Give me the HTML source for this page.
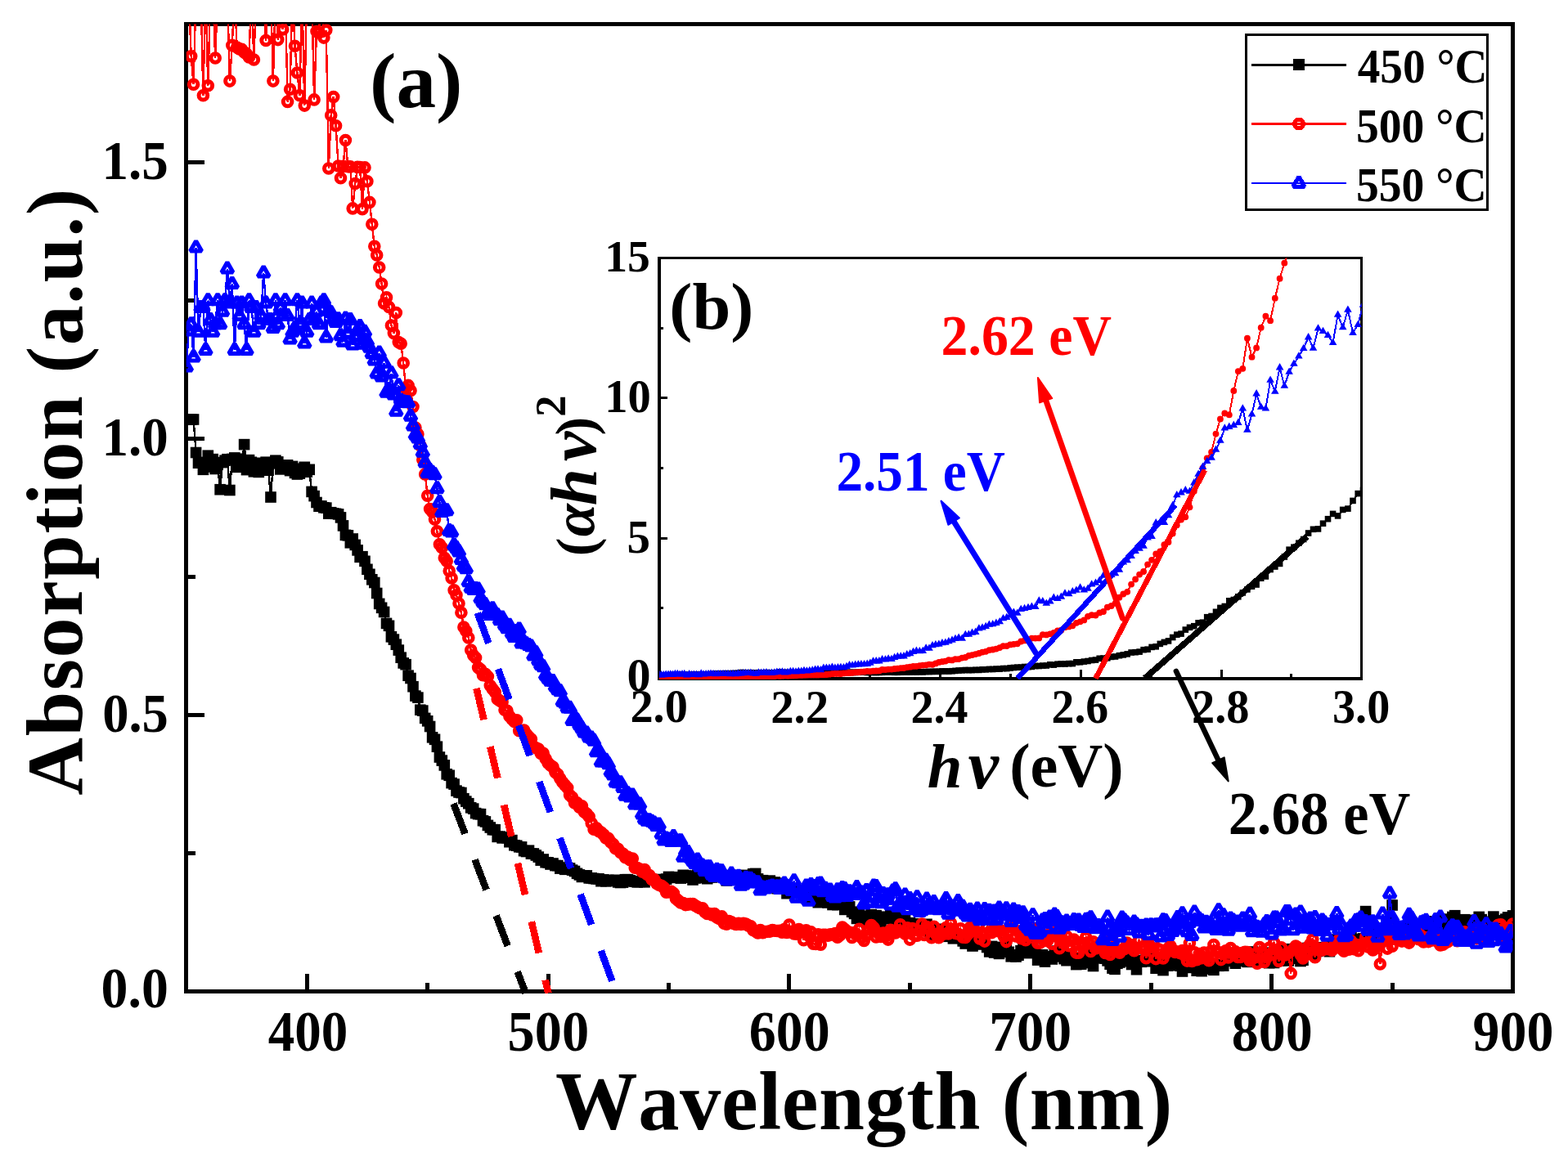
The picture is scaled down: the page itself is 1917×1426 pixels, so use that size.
<!DOCTYPE html>
<html lang="en"><head><meta charset="utf-8"><title>Absorption spectra</title>
<style>html,body{margin:0;padding:0;background:#fff}body{width:1917px;height:1426px;overflow:hidden}svg{display:block}text{font-family:"Liberation Serif","DejaVu Serif",serif;font-weight:bold;font-kerning:none}.i{font-style:italic}</style></head><body>
<svg width="1917" height="1426" viewBox="0 0 1917 1426" role="img" aria-label="UV-vis absorption spectra with Tauc plot inset">
<rect width="1917" height="1426" fill="#fff"/>
<defs>
<clipPath id="cm"><rect x="227.8" y="29.5" width="1621.7" height="1183.1"/></clipPath>
<clipPath id="ci"><rect x="806.1" y="315.6" width="858.7" height="515.4"/></clipPath>
<marker id="sq" markerUnits="userSpaceOnUse" markerWidth="16" markerHeight="16" refX="8" refY="8" viewBox="0 0 16 16"><rect x="1.2" y="1.2" width="13.6" height="13.6" fill="#000"/></marker>
<marker id="ci0" markerUnits="userSpaceOnUse" markerWidth="20" markerHeight="20" refX="10" refY="10" viewBox="0 0 20 20"><circle cx="10" cy="10" r="5.3" fill="none" stroke="#f00" stroke-width="5"/></marker>
<marker id="tr" markerUnits="userSpaceOnUse" markerWidth="24" markerHeight="24" refX="0" refY="0" viewBox="-12 -12 24 24"><path d="M0-8.1L7 4H-7Z" fill="none" stroke="#00f" stroke-width="5.2" stroke-linejoin="bevel"/></marker>
<marker id="sq2" markerUnits="userSpaceOnUse" markerWidth="10" markerHeight="10" refX="0" refY="0" viewBox="-5 -5 10 10"><rect x="-3.8" y="-3.8" width="7.6" height="7.6" fill="#000"/></marker>
<marker id="ci2" markerUnits="userSpaceOnUse" markerWidth="10" markerHeight="10" refX="0" refY="0" viewBox="-5 -5 10 10"><circle r="3.9" fill="#f00"/></marker>
<marker id="tr2" markerUnits="userSpaceOnUse" markerWidth="12" markerHeight="12" refX="0" refY="0" viewBox="-6 -6 12 12"><path d="M0-5.5L4.8 2.8H-4.8Z" fill="#00f"/></marker>
</defs>
<g stroke="#000" stroke-width="5" fill="none" shape-rendering="crispEdges">
<rect x="227.8" y="29.5" width="1621.7" height="1183.1"/>
<path d="M375.2 1212.6v-22M670.1 1212.6v-22M964.9 1212.6v-22M1259.8 1212.6v-22M1554.6 1212.6v-22M522.7 1212.6v-11M817.5 1212.6v-11M1112.4 1212.6v-11M1407.2 1212.6v-11M1702.1 1212.6v-11M227.8 874.6h22M227.8 536.6h22M227.8 198.6h22M227.8 1043.6h11M227.8 705.6h11M227.8 367.6h11"/>
</g>
<g clip-path="url(#cm)" fill="none" shape-rendering="crispEdges">
<polyline points="227.8,513 230.7,513 233.7,513 236.6,513 239.6,553.5 242.5,566.2 245.5,565.4 248.4,574.3 251.4,569.1 254.3,557.2 257.3,571 260.2,561.6 263.2,573.5 266.1,568.3 269.1,598.7 272,565.6 275,563.2 277.9,561.7 280.9,599.5 283.8,561.5 286.8,559.9 289.7,571.3 292.7,561.2 295.6,567.5 298.6,543.6 301.5,574.6 304.5,562.6 307.4,565.3 310.4,576.8 313.3,566.3 316.3,577.4 319.2,570.4 322.2,566.8 325.1,565.2 328.1,575.2 331,608 333.9,566.8 336.9,563.2 339.8,564.9 342.8,573.9 345.7,571.1 348.7,570 351.6,568.8 354.6,575.6 357.5,570.4 360.5,578.4 363.4,580 366.4,579.1 369.3,573.2 372.3,571.3 375.2,577.2 378.2,574.3 381.1,601.4 384.1,606.6 387,614.5 390,619.2 392.9,618.9 395.9,620.8 398.8,621.1 401.8,628.1 404.7,626.7 407.7,627.9 410.6,628.3 413.6,628.9 416.5,632.9 419.5,642.9 422.4,654.4 425.4,654.8 428.3,663.8 431.2,659 434.2,666.4 437.1,672.9 440.1,681.3 443,680.7 446,686.3 448.9,696.3 451.9,702.3 454.8,708.8 457.8,712.5 460.7,725.5 463.7,738.4 466.6,743.3 469.6,748.4 472.5,762.4 475.5,765.3 478.4,778.8 481.4,782.1 484.3,788.2 487.3,795.1 490.2,804.2 493.2,810.9 496.1,812.7 499.1,826.2 502,829.5 505,839.7 507.9,851.1 510.9,853.1 513.8,868.2 516.8,869.1 519.7,878.4 522.7,881.8 525.6,888.5 528.6,901.8 531.5,904.3 534.4,913.2 537.4,926 540.3,930.1 543.3,935.9 546.2,946.8 549.2,948.3 552.1,957.6 555.1,959.1 558,967.1 561,969 563.9,969.5 566.9,976.7 569.8,980.1 572.8,982.7 575.7,987.8 578.7,989.1 581.6,994.6 584.6,995.6 587.5,995.7 590.5,1003.7 593.4,1004.9 596.4,1009.4 599.3,1012 602.3,1014.7 605.2,1014.7 608.2,1023.4 611.1,1023.1 614.1,1024.9 617,1024 620,1024.7 622.9,1029.7 625.9,1027.6 628.8,1033.7 631.8,1034.2 634.7,1035.8 637.6,1035.9 640.6,1040.6 643.5,1041.5 646.5,1040.2 649.4,1044.1 652.4,1044 655.3,1046 658.3,1048.1 661.2,1052.1 664.2,1051 667.1,1054.7 670.1,1054.8 673,1057 676,1056 678.9,1058.6 681.9,1058.6 684.8,1062.1 687.8,1061 690.7,1063.3 693.7,1063.2 696.6,1061.9 699.6,1064.1 702.5,1065.5 705.5,1068.3 708.4,1069.9 711.4,1072.4 714.3,1070.9 717.3,1070.9 720.2,1073.9 723.2,1073.8 726.1,1074.5 729.1,1074.9 732,1074.8 734.9,1077.7 737.9,1075.9 740.8,1077.8 743.8,1076.4 746.7,1077.4 749.7,1077 752.6,1076.3 755.6,1078.9 758.5,1079.5 761.5,1079.1 764.4,1075.7 767.4,1075.7 770.3,1076.7 773.3,1077.8 776.2,1078.2 779.2,1078.9 782.1,1078.4 785.1,1077.4 788,1078.8 791,1074.9 793.9,1075.5 796.9,1076.2 799.8,1076.2 802.8,1076.1 805.7,1075.5 808.7,1076.4 811.6,1076.2 814.6,1075.1 817.5,1072.4 820.5,1073.3 823.4,1073.3 826.4,1072.7 829.3,1072.9 832.3,1074.1 835.2,1070.3 838.1,1071.1 841.1,1071.1 844,1073.2 847,1076 849.9,1074 852.9,1070 855.8,1072.3 858.8,1070 861.7,1073.5 864.7,1074.7 867.6,1072.6 870.6,1073 873.5,1070.1 876.5,1071 879.4,1065.8 882.4,1071.3 885.3,1073.1 888.3,1076.9 891.2,1074 894.2,1070.6 897.1,1075.2 900.1,1074 903,1070.7 906,1073.1 908.9,1075.4 911.9,1070.4 914.8,1072.4 917.8,1071.9 920.7,1068.8 923.7,1068.4 926.6,1074.9 929.6,1078.2 932.5,1076.7 935.5,1078.6 938.4,1085.5 941.3,1077.1 944.3,1080.2 947.2,1079 950.2,1086.7 953.1,1080.2 956.1,1086.2 959,1086.8 962,1092.7 964.9,1090.3 967.9,1090.5 970.8,1091 973.8,1089.4 976.7,1091 979.7,1088.6 982.6,1094.1 985.6,1098.4 988.5,1096.6 991.5,1094.1 994.4,1091.7 997.4,1093.2 1000.3,1103.7 1003.3,1099.8 1006.2,1095.1 1009.2,1099.7 1012.1,1104 1015.1,1102.9 1018,1106.5 1021,1104 1023.9,1106.6 1026.9,1102.8 1029.8,1105.9 1032.8,1112.4 1035.7,1110.1 1038.7,1108.9 1041.6,1115.2 1044.5,1117.4 1047.5,1123.4 1050.4,1116.3 1053.4,1120.3 1056.3,1125.7 1059.3,1127.7 1062.2,1123.3 1065.2,1118.6 1068.1,1120.8 1071.1,1119.6 1074,1125.8 1077,1128.9 1079.9,1121.6 1082.9,1121.3 1085.8,1123.6 1088.8,1119.5 1091.7,1127.3 1094.7,1128 1097.6,1122.9 1100.6,1119.6 1103.5,1125.2 1106.5,1121.4 1109.4,1129.3 1112.4,1128.7 1115.3,1131 1118.3,1137.8 1121.2,1133.2 1124.2,1129.8 1127.1,1133.5 1130.1,1134.9 1133,1130.3 1136,1139.7 1138.9,1144 1141.8,1142.6 1144.8,1144.9 1147.7,1136.3 1150.7,1138.3 1153.6,1144 1156.6,1145.3 1159.5,1137.7 1162.5,1144.6 1165.4,1147.8 1168.4,1145.2 1171.3,1143.7 1174.3,1145.5 1177.2,1150.9 1180.2,1154 1183.1,1148.6 1186.1,1150.1 1189,1157 1192,1148.9 1194.9,1148.5 1197.9,1152.8 1200.8,1155 1203.8,1153.6 1206.7,1158.5 1209.7,1163.9 1212.6,1157.4 1215.6,1165 1218.5,1158.4 1221.5,1166.4 1224.4,1162.4 1227.4,1161.7 1230.3,1152.9 1233.3,1164.3 1236.2,1169.8 1239.2,1167.8 1242.1,1170 1245,1168.2 1248,1162.8 1250.9,1159.6 1253.9,1154.7 1256.8,1165.6 1259.8,1157.2 1262.7,1154.9 1265.7,1163.9 1268.6,1174.1 1271.6,1169.6 1274.5,1167.8 1277.5,1176.1 1280.4,1170.1 1283.4,1169.9 1286.3,1173 1289.3,1166.8 1292.2,1163.1 1295.2,1169.9 1298.1,1168.4 1301.1,1172.6 1304,1174.7 1307,1171.1 1309.9,1167.8 1312.9,1172.6 1315.8,1179.6 1318.8,1170.5 1321.7,1179.2 1324.7,1173.1 1327.6,1163.8 1330.6,1169.6 1333.5,1177.5 1336.5,1181.5 1339.4,1169.2 1342.4,1171.9 1345.3,1170 1348.2,1167.6 1351.2,1172.1 1354.1,1174.9 1357.1,1179.2 1360,1184.1 1363,1185.3 1365.9,1178.3 1368.9,1177 1371.8,1173.7 1374.8,1175.7 1377.7,1174.9 1380.7,1171.7 1383.6,1179.5 1386.6,1178.9 1389.5,1185.7 1392.5,1174.6 1395.4,1176.3 1398.4,1174.6 1401.3,1168.9 1404.3,1169.6 1407.2,1175.8 1410.2,1173.4 1413.1,1184.2 1416.1,1177.9 1419,1177.6 1422,1186.6 1424.9,1174.2 1427.9,1181.1 1430.8,1176.1 1433.8,1180.4 1436.7,1174.4 1439.7,1171.1 1442.6,1181.2 1445.5,1188 1448.5,1182.9 1451.4,1176.4 1454.4,1180.8 1457.3,1183.4 1460.3,1178.2 1463.2,1187.2 1466.2,1184.9 1469.1,1187.7 1472.1,1179.7 1475,1182.5 1478,1185 1480.9,1181.7 1483.9,1186.3 1486.8,1179.9 1489.8,1181.3 1492.7,1179.9 1495.7,1181.1 1498.6,1172.8 1501.6,1175.4 1504.5,1172.8 1507.5,1172 1510.4,1178.2 1513.4,1172.8 1516.3,1172.2 1519.3,1172 1522.2,1175.4 1525.2,1176.4 1528.1,1170.2 1531.1,1164 1534,1174.5 1537,1170.4 1539.9,1173.7 1542.9,1168.5 1545.8,1168.6 1548.7,1165.2 1551.7,1177.7 1554.6,1176.1 1557.6,1177.5 1560.5,1173.2 1563.5,1174.9 1566.4,1174.7 1569.4,1167.7 1572.3,1160.7 1575.3,1174.9 1578.2,1172.3 1581.2,1168.2 1584.1,1168.3 1587.1,1170 1590,1175.5 1593,1174.2 1595.9,1164.7 1598.9,1159.4 1601.8,1162.2 1604.8,1167.3 1607.7,1163.4 1610.7,1163.4 1613.6,1158.7 1616.6,1158.9 1619.5,1162.2 1622.5,1158.4 1625.4,1163.7 1628.4,1154.4 1631.3,1149.1 1634.3,1159.1 1637.2,1153.3 1640.2,1158.2 1643.1,1148.5 1646.1,1145.8 1649,1150.2 1651.9,1144.7 1654.9,1149.7 1657.8,1151.8 1660.8,1151.4 1663.7,1148.5 1666.7,1147.9 1669.6,1114.6 1672.6,1147.5 1675.5,1140.8 1678.5,1137.1 1681.4,1143.4 1684.4,1149.8 1687.3,1140.2 1690.3,1134.8 1693.2,1139.5 1696.2,1146.3 1699.1,1140 1702.1,1107 1705,1144.3 1708,1137.2 1710.9,1138.7 1713.9,1141.6 1716.8,1135.1 1719.8,1142.1 1722.7,1135.5 1725.7,1128 1728.6,1131.2 1731.6,1137.2 1734.5,1142.4 1737.5,1141.9 1740.4,1143 1743.4,1126.8 1746.3,1131.3 1749.2,1136.6 1752.2,1139.3 1755.1,1138.7 1758.1,1134.6 1761,1138.1 1764,1124.1 1766.9,1131.8 1769.9,1134.2 1772.8,1129.1 1775.8,1121.5 1778.7,1119.7 1781.7,1128.3 1784.6,1126.9 1787.6,1126.9 1790.5,1124.7 1793.5,1125.3 1796.4,1131.5 1799.4,1134.8 1802.3,1128.3 1805.3,1133.2 1808.2,1121.4 1811.2,1124.6 1814.1,1130.9 1817.1,1129.1 1820,1129.3 1823,1127.3 1825.9,1121.1 1828.9,1131.4 1831.8,1135.2 1834.8,1126.2 1837.7,1126 1840.7,1124.1 1843.6,1121.9 1846.6,1124.4 1849.5,1119.9" stroke="#000" stroke-width="2.4" marker-start="url(#sq)" marker-mid="url(#sq)" marker-end="url(#sq)"/>
<polyline points="227.8,-10.5 230.7,-10.5 233.7,68.8 236.6,103.3 239.6,-10.5 242.5,-10.5 245.5,-10.5 248.4,116.8 251.4,-10.5 254.3,104.7 257.3,-10.5 260.2,-10.5 263.2,71 266.1,-10.5 269.1,-10.5 272,-10.5 275,-10.5 277.9,-10.5 280.9,99.1 283.8,55.4 286.8,-10.5 289.7,58 292.7,60 295.6,60.4 298.6,64 301.5,66 304.5,70 307.4,-10.5 310.4,73 313.3,-10.5 316.3,-10.5 319.2,-10.5 322.2,-10.5 325.1,49.5 328.1,-10.5 331,-10.5 333.9,99.1 336.9,-10.5 339.8,48.6 342.8,-10.5 345.7,36 348.7,-10.5 351.6,124.4 354.6,109.2 357.5,-10.5 360.5,56.2 363.4,89 366.4,116.8 369.3,-10.5 372.3,129.1 375.2,-10.5 378.2,-10.5 381.1,-10.5 384.1,121.9 387,38.5 390,40 392.9,-10.5 395.9,46.1 398.8,36.8 401.8,206 404.7,140.9 407.7,118.5 410.6,153.8 413.6,203 416.5,217.8 419.5,203.4 422.4,171.5 425.4,203.7 428.3,203.9 431.2,254.9 434.2,224.5 437.1,204.4 440.1,204.6 443,255.7 446,204.9 448.9,221.8 451.9,247.4 454.8,274.3 457.8,301.2 460.7,312 463.7,327 466.6,347 469.6,371 472.5,363.8 475.5,375.4 478.4,398 481.4,407.6 484.3,382.5 487.3,418.6 490.2,420.3 493.2,444 496.1,475.2 499.1,471.4 502,477.7 505,497.5 507.9,523.1 510.9,530.9 513.8,544.7 516.8,562.3 519.7,579.9 522.7,606.2 525.6,622.5 528.6,626.1 531.5,635.1 534.4,649.7 537.4,665.8 540.3,669.7 543.3,682.2 546.2,686.3 549.2,698.2 552.1,706.9 555.1,721.8 558,727.7 561,738.1 563.9,749.2 566.9,767.1 569.8,771.8 572.8,779.9 575.7,795 578.7,801.4 581.6,804.5 584.6,816.4 587.5,818.8 590.5,825.8 593.4,824.3 596.4,827.4 599.3,838.6 602.3,842.8 605.2,846.4 608.2,855 611.1,857.1 614.1,858.7 617,868.2 620,869.2 622.9,875.9 625.9,879.6 628.8,882.6 631.8,880.7 634.7,893.7 637.6,893.7 640.6,893.1 643.5,897.8 646.5,901.3 649.4,904.1 652.4,913.4 655.3,914.7 658.3,916 661.2,921.5 664.2,921.2 667.1,927.9 670.1,933.3 673,936.1 676,938.1 678.9,944.4 681.9,947 684.8,952.2 687.8,956.7 690.7,960.3 693.7,963.5 696.6,972.5 699.6,975.2 702.5,981.9 705.5,981.9 708.4,987.3 711.4,985.8 714.3,993 717.3,995.3 720.2,998.7 723.2,1006.7 726.1,1014.2 729.1,1012.8 732,1016.4 734.9,1018 737.9,1020.7 740.8,1024.9 743.8,1025.4 746.7,1030 749.7,1032.6 752.6,1037.8 755.6,1038.2 758.5,1042.5 761.5,1044.1 764.4,1048.6 767.4,1048.1 770.3,1051.8 773.3,1050 776.2,1061.3 779.2,1061.6 782.1,1063 785.1,1066.1 788,1063.6 791,1069.2 793.9,1070.5 796.9,1075.4 799.8,1075.5 802.8,1080.5 805.7,1082.2 808.7,1083.2 811.6,1085.5 814.6,1091.3 817.5,1090.6 820.5,1090.3 823.4,1092.6 826.4,1099 829.3,1101.4 832.3,1104 835.2,1104.5 838.1,1106.6 841.1,1106.1 844,1105.6 847,1105.6 849.9,1107.6 852.9,1109.3 855.8,1110.8 858.8,1110.7 861.7,1115.3 864.7,1117.5 867.6,1117.5 870.6,1118.9 873.5,1117.5 876.5,1121.9 879.4,1123.4 882.4,1120.9 885.3,1129.3 888.3,1130.2 891.2,1126.6 894.2,1127.7 897.1,1129.6 900.1,1130.5 903,1129.4 906,1130.5 908.9,1129.3 911.9,1130 914.8,1131.9 917.8,1132.8 920.7,1137.5 923.7,1139.1 926.6,1140.9 929.6,1137.6 932.5,1140.8 935.5,1139.6 938.4,1139.3 941.3,1139.1 944.3,1137.6 947.2,1138.3 950.2,1138.5 953.1,1138.4 956.1,1140.3 959,1136.5 962,1140.4 964.9,1131 967.9,1139.2 970.8,1142 973.8,1142.1 976.7,1136.5 979.7,1138.6 982.6,1149.7 985.6,1137.8 988.5,1144.3 991.5,1139.9 994.4,1154.3 997.4,1154.5 1000.3,1142.7 1003.3,1155.2 1006.2,1143.4 1009.2,1143.4 1012.1,1144.2 1015.1,1142.7 1018,1143 1021,1141.6 1023.9,1146.2 1026.9,1143.7 1029.8,1134.1 1032.8,1136.5 1035.7,1139.2 1038.7,1140.2 1041.6,1146.4 1044.5,1140.7 1047.5,1143.2 1050.4,1136.2 1053.4,1146.7 1056.3,1150.4 1059.3,1144.3 1062.2,1136.9 1065.2,1131.5 1068.1,1134.6 1071.1,1145.9 1074,1141.3 1077,1145.4 1079.9,1141 1082.9,1145.1 1085.8,1149.1 1088.8,1137.3 1091.7,1138.8 1094.7,1140.9 1097.6,1137.9 1100.6,1130.7 1103.5,1139.2 1106.5,1142.1 1109.4,1134.9 1112.4,1149.1 1115.3,1135.5 1118.3,1144.2 1121.2,1144.3 1124.2,1138.8 1127.1,1130.1 1130.1,1143.4 1133,1133.6 1136,1136.7 1138.9,1146.7 1141.8,1133.3 1144.8,1143.2 1147.7,1146.8 1150.7,1142.7 1153.6,1142.2 1156.6,1134.5 1159.5,1142 1162.5,1129 1165.4,1136.2 1168.4,1141.5 1171.3,1142 1174.3,1135.8 1177.2,1146.3 1180.2,1146.5 1183.1,1142.7 1186.1,1134.2 1189,1137 1192,1138.2 1194.9,1139.8 1197.9,1148 1200.8,1141.4 1203.8,1151.1 1206.7,1133.3 1209.7,1139.8 1212.6,1140.6 1215.6,1137.2 1218.5,1138 1221.5,1138.9 1224.4,1138.3 1227.4,1145.6 1230.3,1151.6 1233.3,1139.6 1236.2,1131.8 1239.2,1135.5 1242.1,1145 1245,1139.3 1248,1147.6 1250.9,1141.9 1253.9,1149.7 1256.8,1144.6 1259.8,1134.2 1262.7,1140.8 1265.7,1135.9 1268.6,1153.2 1271.6,1153 1274.5,1148.6 1277.5,1144.7 1280.4,1150.8 1283.4,1142.1 1286.3,1154.2 1289.3,1140.5 1292.2,1143.8 1295.2,1159.8 1298.1,1147.6 1301.1,1154 1304,1145 1307,1156.7 1309.9,1150.6 1312.9,1149 1315.8,1165.1 1318.8,1165.2 1321.7,1152.5 1324.7,1154.6 1327.6,1146.2 1330.6,1152.2 1333.5,1163.5 1336.5,1151.8 1339.4,1160 1342.4,1156.2 1345.3,1158.5 1348.2,1152.2 1351.2,1165.5 1354.1,1163.5 1357.1,1167.4 1360,1143.9 1363,1163.5 1365.9,1162.8 1368.9,1165.2 1371.8,1161.7 1374.8,1160.5 1377.7,1153 1380.7,1156.5 1383.6,1155.7 1386.6,1162.8 1389.5,1159.2 1392.5,1149.9 1395.4,1159.4 1398.4,1157.3 1401.3,1171.7 1404.3,1156.2 1407.2,1158.4 1410.2,1150.9 1413.1,1172.6 1416.1,1160.7 1419,1162 1422,1172 1424.9,1166.2 1427.9,1160.2 1430.8,1156.7 1433.8,1161.8 1436.7,1164.5 1439.7,1164.1 1442.6,1165.6 1445.5,1162.6 1448.5,1168.5 1451.4,1175.1 1454.4,1153.4 1457.3,1175.5 1460.3,1164.8 1463.2,1173.8 1466.2,1166.5 1469.1,1171.7 1472.1,1165.1 1475,1171.2 1478,1174.8 1480.9,1163 1483.9,1155.5 1486.8,1163 1489.8,1164.9 1492.7,1173.6 1495.7,1166.5 1498.6,1162.7 1501.6,1171 1504.5,1159.6 1507.5,1166.7 1510.4,1163.9 1513.4,1170.4 1516.3,1170.4 1519.3,1165.3 1522.2,1164.2 1525.2,1164.6 1528.1,1174.8 1531.1,1172.6 1534,1167.1 1537,1178.2 1539.9,1158.6 1542.9,1163.8 1545.8,1176.5 1548.7,1171 1551.7,1159.3 1554.6,1167.2 1557.6,1152.7 1560.5,1161.8 1563.5,1175.5 1566.4,1158.8 1569.4,1167.9 1572.3,1167.6 1575.3,1165.3 1578.2,1190.4 1581.2,1161.1 1584.1,1157.1 1587.1,1159.1 1590,1167.6 1593,1172 1595.9,1167.7 1598.9,1158.8 1601.8,1154.8 1604.8,1148.7 1607.7,1170.7 1610.7,1159.9 1613.6,1161.3 1616.6,1162 1619.5,1158.8 1622.5,1160.7 1625.4,1160.5 1628.4,1162.3 1631.3,1156.4 1634.3,1152.6 1637.2,1149.2 1640.2,1160.6 1643.1,1163.2 1646.1,1158.6 1649,1161.3 1651.9,1150.9 1654.9,1160.6 1657.8,1155.4 1660.8,1162.8 1663.7,1157.1 1666.7,1153.8 1669.6,1146.3 1672.6,1158 1675.5,1151.9 1678.5,1161.9 1681.4,1159.8 1684.4,1157.3 1687.3,1179 1690.3,1150 1693.2,1148.6 1696.2,1160.1 1699.1,1148.6 1702.1,1157.3 1705,1142 1708,1149 1710.9,1149.6 1713.9,1151.1 1716.8,1150.1 1719.8,1149.7 1722.7,1153.1 1725.7,1145.1 1728.6,1147.4 1731.6,1144.6 1734.5,1148.7 1737.5,1144.4 1740.4,1151.9 1743.4,1138.8 1746.3,1151.6 1749.2,1150.2 1752.2,1142.5 1755.1,1141 1758.1,1152 1761,1155.9 1764,1155.2 1766.9,1152.9 1769.9,1151.8 1772.8,1148.4 1775.8,1141.9 1778.7,1141.6 1781.7,1150.7 1784.6,1144.5 1787.6,1142.6 1790.5,1139.7 1793.5,1147.6 1796.4,1150.3 1799.4,1141.7 1802.3,1137.1 1805.3,1147.6 1808.2,1135.3 1811.2,1134.8 1814.1,1144.7 1817.1,1151.1 1820,1145.5 1823,1143.7 1825.9,1138.5 1828.9,1149.1 1831.8,1131.3 1834.8,1130.8 1837.7,1143.3 1840.7,1147.1 1843.6,1139.3 1846.6,1135.6 1849.5,1130.1" stroke="#f00" stroke-width="2.4" marker-start="url(#ci0)" marker-mid="url(#ci0)" marker-end="url(#ci0)"/>
<polyline points="227.8,449 230.7,405 233.7,396.7 236.6,437 239.6,303 242.5,406.1 245.5,376.4 248.4,376.4 251.4,428.4 254.3,367.6 257.3,391.3 260.2,406.1 263.2,396.7 266.1,367.6 269.1,396.7 272,381.1 275,367.6 277.9,329 280.9,371 283.8,347.5 286.8,428.4 289.7,371 292.7,386.5 295.6,371 298.6,396.7 301.5,428.4 304.5,367.6 307.4,376.4 310.4,406.1 313.3,376.4 316.3,396.7 319.2,386.5 322.2,334 325.1,371 328.1,391.3 331,391.3 333.9,401.4 336.9,367.6 339.8,396.7 342.8,376.4 345.7,386.5 348.7,367.6 351.6,386.5 354.6,415 357.5,406.1 360.5,401.4 363.4,367.6 366.4,396.7 369.3,371 372.3,420 375.2,406.1 378.2,391.3 381.1,371 384.1,391.3 387,381.1 390,396.7 392.9,371 395.9,367.6 398.8,412.8 401.8,380.1 404.7,382.7 407.7,389.9 410.6,394.3 413.6,390.6 416.5,410.7 419.5,418.2 422.4,390 425.4,408 428.3,391.5 431.2,422 434.2,411.4 437.1,404.7 440.1,399.5 443,421.1 446,406.1 448.9,417.5 451.9,425.2 454.8,432.6 457.8,440.9 460.7,456.8 463.7,431.9 466.6,460.8 469.6,444.1 472.5,480.2 475.5,476.5 478.4,456.7 481.4,482.9 484.3,503.2 487.3,471.6 490.2,489.8 493.2,491.6 496.1,492.3 499.1,492.7 502,509.1 505,520.9 507.9,531.9 510.9,536 513.8,543.2 516.8,553.2 519.7,566 522.7,578.7 525.6,575.5 528.6,578.2 531.5,580.7 534.4,597.7 537.4,614.4 540.3,626.3 543.3,624.8 546.2,624.6 549.2,649.4 552.1,650.8 555.1,666.8 558,670.5 561,674.8 563.9,684.4 566.9,692.6 569.8,695.6 572.8,711.7 575.7,719.2 578.7,721.4 581.6,720.5 584.6,720.9 587.5,732 590.5,736.7 593.4,739.7 596.4,749.3 599.3,752.3 602.3,744.7 605.2,750.7 608.2,752.7 611.1,758.6 614.1,755.8 617,764.4 620,768.6 622.9,765.2 625.9,774.6 628.8,779.4 631.8,772.5 634.7,770 637.6,786.8 640.6,785.5 643.5,787.7 646.5,789.3 649.4,790.8 652.4,801.9 655.3,798.7 658.3,807.8 661.2,813.2 664.2,815.7 667.1,825.9 670.1,829.8 673,833.2 676,833.5 678.9,839.7 681.9,843.6 684.8,845.7 687.8,858.2 690.7,860.2 693.7,865.9 696.6,866.1 699.6,881.4 702.5,877.2 705.5,881.1 708.4,886.4 711.4,890.8 714.3,895.9 717.3,896.8 720.2,901.9 723.2,902.8 726.1,906.2 729.1,919.7 732,918.1 734.9,931.8 737.9,931.8 740.8,930.1 743.8,934.7 746.7,943.8 749.7,947.9 752.6,957 755.6,957.6 758.5,957.6 761.5,963.5 764.4,973.2 767.4,970.6 770.3,975 773.3,972.9 776.2,984 779.2,983.2 782.1,983.8 785.1,995.9 788,1002 791,1004.2 793.9,1003.6 796.9,1005.1 799.8,1006.9 802.8,1010.4 805.7,1008.8 808.7,1020.2 811.6,1027.9 814.6,1025.8 817.5,1027 820.5,1029.5 823.4,1023.3 826.4,1029.2 829.3,1029 832.3,1028.7 835.2,1048.2 838.1,1041 841.1,1042.3 844,1049.1 847,1053.2 849.9,1056.7 852.9,1051.8 855.8,1060.1 858.8,1059 861.7,1065.5 864.7,1060.6 867.6,1060.6 870.6,1070 873.5,1072.5 876.5,1064.1 879.4,1065.6 882.4,1065.7 885.3,1073.7 888.3,1076.2 891.2,1076.9 894.2,1069 897.1,1072.3 900.1,1074.3 903,1072.1 906,1083.1 908.9,1081.8 911.9,1074.2 914.8,1075.2 917.8,1075.2 920.7,1077.5 923.7,1079.8 926.6,1079.6 929.6,1088.8 932.5,1086 935.5,1086.9 938.4,1085.6 941.3,1084.9 944.3,1084 947.2,1085.3 950.2,1084.6 953.1,1087.3 956.1,1083.7 959,1080.9 962,1084.2 964.9,1085.2 967.9,1089.3 970.8,1077.6 973.8,1098.1 976.7,1093.1 979.7,1091.8 982.6,1094.6 985.6,1083.9 988.5,1102.1 991.5,1082.4 994.4,1084.4 997.4,1088.9 1000.3,1081.5 1003.3,1080.9 1006.2,1090.7 1009.2,1087.1 1012.1,1089.8 1015.1,1089 1018,1096.4 1021,1098 1023.9,1088.6 1026.9,1096.7 1029.8,1086.5 1032.8,1087.5 1035.7,1096.4 1038.7,1090.7 1041.6,1092.8 1044.5,1094.4 1047.5,1085.5 1050.4,1093.3 1053.4,1092 1056.3,1105.8 1059.3,1089.5 1062.2,1104.1 1065.2,1096.8 1068.1,1083.8 1071.1,1084.3 1074,1098.1 1077,1104.7 1079.9,1093.4 1082.9,1099.5 1085.8,1094.7 1088.8,1107 1091.7,1090 1094.7,1087.7 1097.6,1109.1 1100.6,1104.7 1103.5,1104.6 1106.5,1094.9 1109.4,1112.6 1112.4,1099.5 1115.3,1103 1118.3,1107.6 1121.2,1097.6 1124.2,1115.3 1127.1,1113.6 1130.1,1110 1133,1100 1136,1108.1 1138.9,1112.1 1141.8,1103.5 1144.8,1110.9 1147.7,1112.6 1150.7,1110.8 1153.6,1106.9 1156.6,1099.3 1159.5,1118.2 1162.5,1109.1 1165.4,1112.8 1168.4,1114.1 1171.3,1102.3 1174.3,1108 1177.2,1109.2 1180.2,1117.6 1183.1,1120.9 1186.1,1113.2 1189,1117.8 1192,1120.3 1194.9,1111.9 1197.9,1125.6 1200.8,1122.7 1203.8,1112.4 1206.7,1119 1209.7,1114.1 1212.6,1125.4 1215.6,1114.8 1218.5,1125.2 1221.5,1111 1224.4,1115.5 1227.4,1118.2 1230.3,1111.6 1233.3,1119.9 1236.2,1127.3 1239.2,1112.8 1242.1,1121.2 1245,1115.4 1248,1123.4 1250.9,1116.6 1253.9,1131.4 1256.8,1134.7 1259.8,1138.2 1262.7,1119.6 1265.7,1142.1 1268.6,1142.5 1271.6,1140 1274.5,1125.9 1277.5,1124.5 1280.4,1135.8 1283.4,1122 1286.3,1126.4 1289.3,1118.9 1292.2,1121.5 1295.2,1136.1 1298.1,1128.6 1301.1,1132.1 1304,1126.9 1307,1129.4 1309.9,1131.3 1312.9,1125.5 1315.8,1131.5 1318.8,1125.9 1321.7,1132.3 1324.7,1134.3 1327.6,1125.1 1330.6,1125 1333.5,1122.6 1336.5,1128.2 1339.4,1135.7 1342.4,1132.3 1345.3,1132.8 1348.2,1149.7 1351.2,1144.3 1354.1,1122 1357.1,1135.3 1360,1150.5 1363,1136.2 1365.9,1133.9 1368.9,1146.2 1371.8,1123 1374.8,1125.9 1377.7,1128.8 1380.7,1137.4 1383.6,1131.4 1386.6,1128 1389.5,1131 1392.5,1140.9 1395.4,1133.1 1398.4,1133.5 1401.3,1131.9 1404.3,1143.4 1407.2,1131.7 1410.2,1133.8 1413.1,1131.6 1416.1,1131.7 1419,1145.9 1422,1125.6 1424.9,1126.3 1427.9,1144.5 1430.8,1133.2 1433.8,1139.4 1436.7,1135.6 1439.7,1122.5 1442.6,1126.3 1445.5,1117.7 1448.5,1129.4 1451.4,1139.6 1454.4,1128.5 1457.3,1144.3 1460.3,1115.8 1463.2,1126.1 1466.2,1124.2 1469.1,1126.4 1472.1,1134.8 1475,1128.1 1478,1133.5 1480.9,1131.1 1483.9,1123.8 1486.8,1137.3 1489.8,1113.6 1492.7,1136.3 1495.7,1119.7 1498.6,1132.7 1501.6,1138.1 1504.5,1123.9 1507.5,1125.9 1510.4,1129.4 1513.4,1128 1516.3,1133.1 1519.3,1124 1522.2,1132 1525.2,1127.7 1528.1,1118.2 1531.1,1139.6 1534,1133.1 1537,1134.1 1539.9,1135.2 1542.9,1140.2 1545.8,1130.9 1548.7,1127.3 1551.7,1129.7 1554.6,1142.8 1557.6,1123 1560.5,1122.9 1563.5,1128.5 1566.4,1137.9 1569.4,1136.8 1572.3,1115.5 1575.3,1115.5 1578.2,1125.5 1581.2,1137.7 1584.1,1118.8 1587.1,1128.3 1590,1116 1593,1135.1 1595.9,1126.1 1598.9,1132.1 1601.8,1123.8 1604.8,1136 1607.7,1122.5 1610.7,1134 1613.6,1138.5 1616.6,1125.8 1619.5,1128.8 1622.5,1145.1 1625.4,1131.4 1628.4,1130.3 1631.3,1129.6 1634.3,1117.3 1637.2,1137 1640.2,1131.6 1643.1,1145.6 1646.1,1144.3 1649,1136.6 1651.9,1132.8 1654.9,1133.4 1657.8,1126.1 1660.8,1125.3 1663.7,1122.9 1666.7,1133.2 1669.6,1127.5 1672.6,1138.1 1675.5,1128.7 1678.5,1127.7 1681.4,1136.4 1684.4,1146.1 1687.3,1137.7 1690.3,1118 1693.2,1133 1696.2,1137.7 1699.1,1093 1702.1,1122.4 1705,1129.3 1708,1134.1 1710.9,1143.5 1713.9,1134.9 1716.8,1142.8 1719.8,1129.3 1722.7,1119.2 1725.7,1123.2 1728.6,1137.7 1731.6,1141.2 1734.5,1144.8 1737.5,1128.7 1740.4,1127.7 1743.4,1126.2 1746.3,1130.7 1749.2,1144.7 1752.2,1148.6 1755.1,1125.3 1758.1,1142.9 1761,1121.9 1764,1150.5 1766.9,1146.7 1769.9,1145.6 1772.8,1135.6 1775.8,1132.6 1778.7,1143.7 1781.7,1134.1 1784.6,1151.2 1787.6,1144.7 1790.5,1151.4 1793.5,1145.9 1796.4,1146.9 1799.4,1138.8 1802.3,1127.5 1805.3,1154.1 1808.2,1144.1 1811.2,1136.5 1814.1,1142.2 1817.1,1130.6 1820,1152.3 1823,1136.7 1825.9,1150.7 1828.9,1136.9 1831.8,1142.8 1834.8,1142.4 1837.7,1149.9 1840.7,1158.9 1843.6,1155 1846.6,1139.3 1849.5,1148.1" stroke="#00f" stroke-width="2.4" marker-start="url(#tr)" marker-mid="url(#tr)" marker-end="url(#tr)"/>
</g>
<g fill="none" shape-rendering="crispEdges">
<line x1="554.5" y1="982.8" x2="642.6" y2="1214.5" stroke="#000" stroke-width="8.6" stroke-dasharray="39.5 33.8"/>
<line x1="582.5" y1="841.8" x2="670.4" y2="1214.5" stroke="#f00" stroke-width="8.6" stroke-dasharray="39.5 33.8"/>
<line x1="583.8" y1="749.5" x2="753.7" y2="1214.5" stroke="#00f" stroke-width="8.6" stroke-dasharray="39.5 33.8"/>
</g>
<g>
<text transform="translate(123.61 1232.18) scale(0.9511 1)" font-size="69.19">0.0</text>
<text transform="translate(125.20 894.72) scale(0.9485 1)" font-size="68.00">0.5</text>
<text transform="translate(124.56 556.73) scale(0.9646 1)" font-size="67.41">1.0</text>
<text transform="translate(124.56 218.60) scale(0.9563 1)" font-size="68.00">1.5</text>
<text transform="translate(327.85 1285.42) scale(0.9295 1)" font-size="69.94">400</text>
<text transform="translate(620.54 1285.42) scale(0.9491 1)" font-size="69.94">500</text>
<text transform="translate(915.75 1285.42) scale(0.9425 1)" font-size="69.94">600</text>
<text transform="translate(1209.18 1285.42) scale(0.9627 1)" font-size="69.94">700</text>
<text transform="translate(1505.78 1285.42) scale(0.9425 1)" font-size="69.94">800</text>
<text transform="translate(1800.48 1285.42) scale(0.9425 1)" font-size="69.94">900</text>
<text x="678.99" y="1380.62" font-size="100.58" letter-spacing="0.59">Wavelength (nm)</text>
<text transform="translate(99.66 972.76) rotate(-90)" font-size="97.98" letter-spacing="1.64">Absorption (a.u.)</text>
<text transform="translate(452.07 130.63) scale(1.0296 1)" font-size="94.44">(a)</text>
</g>
<rect x="1523.6" y="42.4" width="295" height="214.2" fill="#fff" stroke="#000" stroke-width="3" shape-rendering="crispEdges"/>
<g fill="none" shape-rendering="crispEdges">
<path d="M1530 79.3H1646" stroke="#000" stroke-width="3"/><rect x="1581" y="72.3" width="14" height="14" fill="#000"/>
<path d="M1530 151.5H1646" stroke="#f00" stroke-width="3"/><circle cx="1588" cy="151.5" r="5.5" stroke="#f00" stroke-width="5"/>
<path d="M1530 224.1H1646" stroke="#00f" stroke-width="2"/><path d="M1588 216L1595 228.1H1581Z" stroke="#00f" stroke-width="5.2" stroke-linejoin="bevel"/>
</g>
<text transform="translate(1659.67 100.66) scale(0.9517 1)" font-size="58.12">450 °C</text>
<text transform="translate(1658.00 174.17) scale(0.9518 1)" font-size="58.44">500 °C</text>
<text transform="translate(1658.00 245.62) scale(0.9446 1)" font-size="58.88">550 °C</text>
<g stroke="#000" stroke-width="3" fill="none" shape-rendering="crispEdges">
<path d="M804.1 315.6H1664.6V831.5" stroke-width="3"/>
<path d="M806.1 315.6V829.6H1664.8" stroke-width="4"/>
<path d="M892 829.6v-5.5M977.8 829.6v-10.5M1063.7 829.6v-5.5M1149.6 829.6v-10.5M1235.5 829.6v-5.5M1321.3 829.6v-10.5M1407.2 829.6v-5.5M1493.1 829.6v-10.5M1578.9 829.6v-5.5M806.1 743.9h5M806.1 658.3h10M806.1 572.6h5M806.1 486.9h10M806.1 401.3h5"/>
</g>
<g clip-path="url(#ci)" fill="none" shape-rendering="crispEdges">
<polyline points="1672.7,597.8 1666.5,599.4 1660.2,603.6 1654,612.4 1647.9,622.1 1641.7,623.4 1635.6,630.9 1629.6,628.4 1623.5,634.7 1617.5,640.2 1611.5,646.9 1605.5,647.3 1599.6,652 1593.7,659.5 1587.8,664.2 1581.9,669.2 1576.1,672.2 1570.3,681 1564.6,689.4 1558.8,693 1553.1,696.5 1547.4,705 1541.7,707.2 1536.1,715 1530.5,717.2 1524.9,720.9 1519.3,724.9 1513.8,729.8 1508.3,733.5 1502.8,734.8 1497.3,741.5 1491.9,743.4 1486.5,748.3 1481.1,753.5 1475.7,754.7 1470.4,761.2 1465.1,761.8 1459.8,765.7 1454.5,767.3 1449.3,770.1 1444,775.1 1438.8,776.2 1433.7,779.5 1428.5,783.9 1423.4,785.4 1418.3,787.4 1413.2,790.8 1408.1,791.4 1403.1,794.2 1398.1,794.7 1393.1,797.1 1388.1,797.7 1383.1,798 1378.2,799.9 1373.3,800.9 1368.4,801.7 1363.5,803 1358.7,803.4 1353.8,804.8 1349,805.1 1344.2,805.3 1339.5,807.1 1334.7,807.5 1330,808.5 1325.3,809.1 1320.6,809.8 1315.9,809.8 1311.3,811.6 1306.7,811.6 1302,812 1297.4,812 1292.9,812.2 1288.3,813.1 1283.8,812.8 1279.3,814 1274.8,814.1 1270.3,814.5 1265.8,814.5 1261.4,815.4 1257,815.6 1252.6,815.5 1248.2,816.1 1243.8,816.2 1239.4,816.5 1235.1,816.9 1230.8,817.6 1226.5,817.5 1222.2,818.1 1217.9,818.1 1213.7,818.5 1209.4,818.4 1205.2,818.8 1201,818.8 1196.9,819.4 1192.7,819.3 1188.5,819.6 1184.4,819.6 1180.3,819.5 1176.2,819.8 1172.1,820 1168,820.4 1164,820.7 1159.9,821 1155.9,820.9 1151.9,820.9 1147.9,821.3 1143.9,821.3 1140,821.4 1136,821.5 1132.1,821.5 1128.2,821.9 1124.3,821.7 1120.4,822 1116.5,821.8 1112.7,822 1108.8,822 1105,821.9 1101.2,822.2 1097.4,822.3 1093.6,822.3 1089.9,822 1086.1,822 1082.4,822.1 1078.6,822.3 1074.9,822.4 1071.2,822.5 1067.5,822.4 1063.9,822.4 1060.2,822.5 1056.6,822.1 1052.9,822.2 1049.3,822.3 1045.7,822.4 1042.1,822.4 1038.5,822.3 1035,822.5 1031.4,822.5 1027.9,822.4 1024.4,822.1 1020.9,822.2 1017.4,822.3 1013.9,822.2 1010.4,822.3 1006.9,822.4 1003.5,822 1000,822.2 996.6,822.2 993.2,822.4 989.8,822.7 986.4,822.6 983,822.2 979.7,822.4 976.3,822.2 973,822.6 969.6,822.8 966.3,822.6 963,822.6 959.7,822.4 956.4,822.5 953.2,822 949.9,822.6 946.7,822.8 943.4,823.2 940.2,822.9 937,822.6 933.8,823.1 930.6,823 927.4,822.7 924.2,822.9 921.1,823.2 917.9,822.7 914.8,822.9 911.7,822.9 908.6,822.6 905.5,822.6 902.4,823.3 899.3,823.6 896.2,823.5 893.1,823.7 890.1,824.3 887,823.6 884,823.9 881,823.8 878,824.4 875,823.9 872,824.4 869,824.5 866,825 863.1,824.8 860.1,824.8 857.2,824.9 854.2,824.8 851.3,824.9 848.4,824.8 845.5,825.2 842.6,825.5 839.7,825.4 836.8,825.2 834,825.1 831.1,825.2 828.3,825.9 825.4,825.7 822.6,825.4 819.8,825.7 817,826 814.2,826 811.4,826.2 808.6,826.1 805.8,826.2 803.1,826" stroke="#000" stroke-width="2" marker-start="url(#sq2)" marker-mid="url(#sq2)" marker-end="url(#sq2)"/>
<polyline points="1672.7,285.6 1666.5,285.6 1660.2,285.6 1654,285.6 1647.9,285.6 1641.7,285.6 1635.6,285.6 1629.6,285.6 1623.5,285.6 1617.5,285.6 1611.5,285.6 1605.5,285.6 1599.6,285.6 1593.7,285.6 1587.8,285.6 1581.9,285.6 1576.1,307 1570.3,321.7 1564.6,340.7 1558.8,364.7 1553.1,392.2 1547.4,386.7 1541.7,400.7 1536.1,425.4 1530.5,436.7 1524.9,413.7 1519.3,450.8 1513.8,454.1 1508.3,477.9 1502.8,507.4 1497.3,505.5 1491.9,512.4 1486.5,530.6 1481.1,552.9 1475.7,560.3 1470.4,572.3 1465.1,586.7 1459.8,600.7 1454.5,620.3 1449.3,632.3 1444,635.6 1438.8,642.3 1433.7,652.4 1428.5,663.1 1423.4,666.2 1418.3,674.3 1413.2,677.4 1408.1,684.8 1403.1,690.3 1398.1,699 1393.1,702.6 1388.1,708.5 1383.1,714.6 1378.2,723.8 1373.3,726.5 1368.4,730.7 1363.5,737.8 1358.7,741 1353.8,742.7 1349,748 1344.2,749.4 1339.5,752.5 1334.7,752.2 1330,753.8 1325.3,758.4 1320.6,760.3 1315.9,761.9 1311.3,765.3 1306.7,766.4 1302,767.2 1297.4,770.7 1292.9,771.4 1288.3,773.8 1283.8,775.3 1279.3,776.4 1274.8,776.1 1270.3,780.4 1265.8,780.6 1261.4,780.6 1257,782.2 1252.6,783.4 1248.2,784.5 1243.8,787.3 1239.4,787.8 1235.1,788.4 1230.8,790.1 1226.5,790.1 1222.2,792.1 1217.9,793.6 1213.7,794.5 1209.4,795.1 1205.2,796.8 1201,797.6 1196.9,799 1192.7,800.1 1188.5,801.1 1184.4,801.9 1180.3,804 1176.2,804.6 1172.1,806.1 1168,806.2 1164,807.4 1159.9,807.2 1155.9,808.6 1151.9,809.2 1147.9,809.9 1143.9,811.4 1140,812.8 1136,812.6 1132.1,813.3 1128.2,813.6 1124.3,814.1 1120.4,814.8 1116.5,814.9 1112.7,815.7 1108.8,816.1 1105,817 1101.2,817.1 1097.4,817.7 1093.6,818 1089.9,818.6 1086.1,818.6 1082.4,819.1 1078.6,819 1074.9,820.4 1071.2,820.5 1067.5,820.7 1063.9,821.1 1060.2,820.8 1056.6,821.5 1052.9,821.7 1049.3,822.2 1045.7,822.3 1042.1,822.8 1038.5,823 1035,823.1 1031.4,823.4 1027.9,824 1024.4,823.9 1020.9,823.9 1017.4,824.2 1013.9,824.7 1010.4,825 1006.9,825.2 1003.5,825.2 1000,825.4 996.6,825.4 993.2,825.4 989.8,825.4 986.4,825.6 983,825.7 979.7,825.8 976.3,825.8 973,826.2 969.6,826.3 966.3,826.4 963,826.5 959.7,826.4 956.4,826.7 953.2,826.8 949.9,826.6 946.7,827.2 943.4,827.2 940.2,827 937,827.1 933.8,827.2 930.6,827.3 927.4,827.2 924.2,827.3 921.1,827.2 917.9,827.3 914.8,827.4 911.7,827.4 908.6,827.7 905.5,827.8 902.4,827.9 899.3,827.7 896.2,827.9 893.1,827.8 890.1,827.8 887,827.8 884,827.8 881,827.8 878,827.8 875,827.8 872,827.9 869,827.7 866,827.9 863.1,827.5 860.1,827.9 857.2,828 854.2,828 851.3,827.8 848.4,827.9 845.5,828.4 842.6,827.8 839.7,828.1 836.8,828 834,828.5 831.1,828.6 828.3,828.1 825.4,828.6 822.6,828.1 819.8,828.1 817,828.2 814.2,828.1 811.4,828.1 808.6,828.1 805.8,828.3 803.1,828.2" stroke="#f00" stroke-width="2" marker-start="url(#ci2)" marker-mid="url(#ci2)" marker-end="url(#ci2)"/>
<polyline points="1672.7,374.9 1666.5,373 1660.2,397.2 1654,407.3 1647.9,379 1641.7,400.5 1635.6,384.9 1629.6,419.2 1623.5,410.2 1617.5,405.2 1611.5,401.7 1605.5,426 1599.6,412.6 1593.7,426.2 1587.8,435.8 1581.9,445 1576.1,454.9 1570.3,471.9 1564.6,449.6 1558.8,478.9 1553.1,464.9 1547.4,499.8 1541.7,498 1536.1,481.6 1530.5,506.8 1524.9,525.9 1519.3,499.7 1513.8,517.1 1508.3,520.1 1502.8,522.1 1497.3,523.8 1491.9,538.9 1486.5,549.9 1481.1,559.9 1475.7,564.3 1470.4,571.1 1465.1,579.9 1459.8,590.6 1454.5,600.9 1449.3,599.6 1444,602.6 1438.8,605.4 1433.7,618.2 1428.5,630.4 1423.4,639.1 1418.3,638.9 1413.2,639.6 1408.1,656.1 1403.1,657.7 1398.1,668 1393.1,670.9 1388.1,674.1 1383.1,680.3 1378.2,685.4 1373.3,687.7 1368.4,697 1363.5,701.5 1358.7,703.2 1353.8,703.2 1349,704 1344.2,710.1 1339.5,712.9 1334.7,714.8 1330,719.9 1325.3,721.8 1320.6,718.7 1315.9,722 1311.3,723.4 1306.7,726.5 1302,725.7 1297.4,730 1292.9,732.2 1288.3,731.1 1283.8,735.6 1279.3,738 1274.8,735.5 1270.3,734.8 1265.8,742.2 1261.4,742 1257,743.3 1252.6,744.3 1248.2,745.2 1243.8,749.9 1239.4,749 1235.1,752.8 1230.8,755.2 1226.5,756.4 1222.2,760.4 1217.9,762.1 1213.7,763.5 1209.4,763.9 1205.2,766.3 1201,767.8 1196.9,768.8 1192.7,773.1 1188.5,773.9 1184.4,775.9 1180.3,776.2 1176.2,781 1172.1,779.9 1168,781.3 1164,783 1159.9,784.4 1155.9,786 1151.9,786.4 1147.9,788 1143.9,788.4 1140,789.4 1136,793 1132.1,792.8 1128.2,796.3 1124.3,796.4 1120.4,796.1 1116.5,797.3 1112.7,799.5 1108.8,800.5 1105,802.6 1101.2,802.8 1097.4,802.9 1093.6,804.2 1089.9,806.3 1086.1,805.8 1082.4,806.8 1078.6,806.5 1074.9,808.6 1071.2,808.6 1067.5,808.8 1063.9,811 1060.2,812.1 1056.6,812.5 1052.9,812.5 1049.3,812.8 1045.7,813.1 1042.1,813.7 1038.5,813.5 1035,815.3 1031.4,816.5 1027.9,816.3 1024.4,816.5 1020.9,816.9 1017.4,816 1013.9,816.9 1010.4,816.9 1006.9,816.9 1003.5,819.5 1000,818.7 996.6,818.9 993.2,819.7 989.8,820.3 986.4,820.7 983,820.2 979.7,821.1 976.3,821 973,821.8 969.6,821.3 966.3,821.3 963,822.3 959.7,822.6 956.4,821.8 953.2,822 949.9,822 946.7,822.8 943.4,823.1 940.2,823.2 937,822.4 933.8,822.8 930.6,823 927.4,822.8 924.2,823.9 921.1,823.8 917.9,823.1 914.8,823.2 911.7,823.2 908.6,823.5 905.5,823.7 902.4,823.7 899.3,824.5 896.2,824.3 893.1,824.4 890.1,824.3 887,824.2 884,824.2 881,824.3 878,824.3 875,824.5 872,824.2 869,824 866,824.3 863.1,824.4 860.1,824.7 857.2,823.8 854.2,825.4 851.3,825.1 848.4,825 845.5,825.2 842.6,824.4 839.7,825.8 836.8,824.3 834,824.5 831.1,824.9 828.3,824.3 825.4,824.3 822.6,825.1 819.8,824.8 817,825 814.2,825 811.4,825.5 808.6,825.6 805.8,825 803.1,825.6" stroke="#00f" stroke-width="2" marker-start="url(#tr2)" marker-mid="url(#tr2)" marker-end="url(#tr2)"/>
<line x1="1244" y1="829.6" x2="1437" y2="618" stroke="#00f" stroke-width="6.5"/>
<line x1="1339.5" y1="829.6" x2="1473" y2="575" stroke="#f00" stroke-width="6.5"/>
<line x1="1399.5" y1="829.6" x2="1598" y2="656" stroke="#000" stroke-width="7.5"/>
</g>
<text transform="translate(770.47 883.15) scale(0.9828 1)" font-size="57.31">2.0</text>
<text transform="translate(942.19 884.20) scale(0.9816 1)" font-size="57.94">2.2</text>
<text transform="translate(1113.48 884.20) scale(0.9651 1)" font-size="57.94">2.4</text>
<text transform="translate(1285.55 884.41) scale(0.9561 1)" font-size="58.27">2.6</text>
<text transform="translate(1456.94 884.41) scale(0.9678 1)" font-size="58.27">2.8</text>
<text transform="translate(1629.01 884.41) scale(0.9643 1)" font-size="58.27">3.0</text>
<text transform="translate(739.29 331.98) scale(1.0008 1)" font-size="55.61">15</text>
<text transform="translate(739.21 504.18) scale(0.9909 1)" font-size="57.09">10</text>
<text transform="translate(766.46 675.73) scale(0.9985 1)" font-size="57.18">5</text>
<text transform="translate(766.48 844.57) scale(1.0270 1)" font-size="56.57">0</text>
<text transform="translate(818.37 402.07) scale(1.0613 1)" font-size="79.38">(b)</text>
<text transform="translate(1150.59 434.12) scale(0.9374 1)" font-size="70.21" fill="#f00">2.62 eV</text>
<text transform="translate(1022.39 599.87) scale(0.9370 1)" font-size="69.62" fill="#00f">2.51 eV</text>
<text transform="translate(1501.69 1020.03) scale(0.9413 1)" font-size="74.66">2.68 eV</text>
<text transform="translate(1135.0 963.0)"><tspan x="-1.39" y="-0.23" font-size="76.87" class="i">h</tspan><tspan x="48.38" y="1.00" font-size="84.66" class="i">ν </tspan><tspan x="99.13" y="-0.76" font-size="76.20">(eV)</tspan></text><text transform="translate(728.0 680.0) rotate(-90) scale(1.0 1)"><tspan x="-0.33" y="-1.30" font-size="68.12">(</tspan><tspan x="23.79" y="-2.04" font-size="72.66" class="i">α</tspan><tspan x="61.70" y="1.00" font-size="81.16" class="i">h</tspan><tspan x="115.72" y="-0.28" font-size="82.09" class="i">ν</tspan><tspan x="147.56" y="-1.66" font-size="68.70">)</tspan><tspan x="170.20" y="-37.06" font-size="52.61">2</tspan></text>
<g>
<path d="M1372.4 756.2L1278.4 488.8" stroke="#f00" stroke-width="7" fill="none" stroke-linecap="round"/><path d="M1268.9 461.9L1286.2 487.1L1271.1 492.4Z" fill="#f00" stroke="#f00" stroke-width="2" stroke-linejoin="round"/>
<path d="M1266.6 799L1165.6 636.8" stroke="#00f" stroke-width="7" fill="none" stroke-linecap="round"/><path d="M1150.5 612.6L1172.9 633.4L1159.3 641.8Z" fill="#00f" stroke="#00f" stroke-width="2" stroke-linejoin="round"/>
<path d="M1437.9 820.9L1489.9 930.6" stroke="#000" stroke-width="6.5" fill="none" stroke-linecap="round"/><path d="M1501.7 955.4L1482.2 933.1L1496.7 926.3Z" fill="#000" stroke="#000" stroke-width="2" stroke-linejoin="round"/>
</g>
</svg></body></html>
